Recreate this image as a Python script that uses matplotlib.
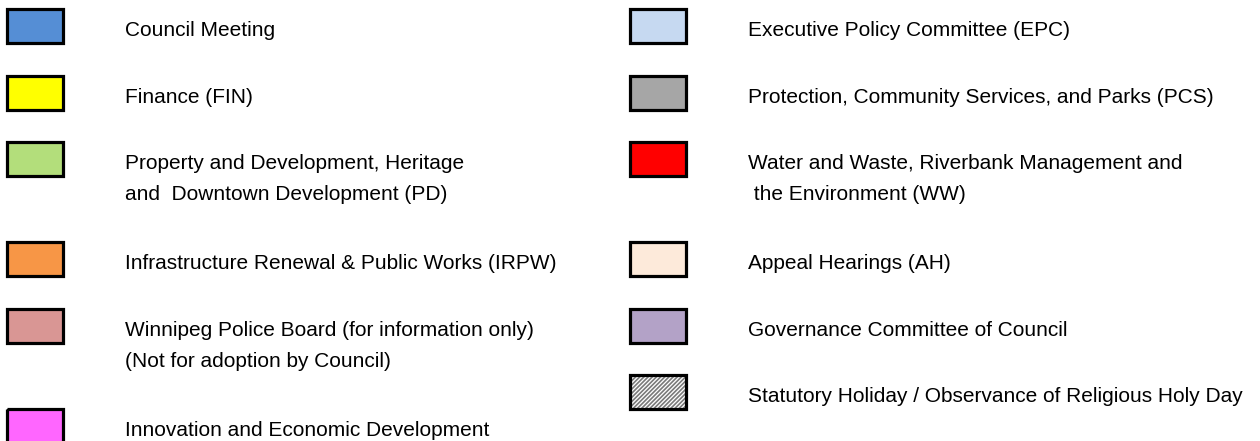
import matplotlib
matplotlib.use("Agg")
import matplotlib.pyplot as plt
from matplotlib.patches import Rectangle

plt.rcParams['font.family'] = ['Liberation Sans', 'DejaVu Sans']
plt.rcParams['hatch.linewidth'] = 1.2

left_labels = [
    "Council Meeting",
    "Finance (FIN)",
    "Property and Development, Heritage\nand  Downtown Development (PD)",
    "Infrastructure Renewal & Public Works (IRPW)",
    "Winnipeg Police Board (for information only)\n(Not for adoption by Council)",
    "Innovation and Economic Development",
]
left_colors = ["#558ED5", "#FFFF00", "#B3DE7B", "#F79646", "#D99694", "#FF66FF"]

right_labels = [
    "Executive Policy Committee (EPC)",
    "Protection, Community Services, and Parks (PCS)",
    "Water and Waste, Riverbank Management and\n the Environment (WW)",
    "Appeal Hearings (AH)",
    "Governance Committee of Council",
    "Statutory Holiday / Observance of Religious Holy Day",
]
right_colors = ["#C6D9F1", "#A6A6A6", "#FF0000", "#FDEADA", "#B3A2C7", "hatch"]

# layout (pixels)
left_tops = [8.5, 75.5, 141.5, 241.5, 308.5, 408.5]
right_tops = [8.5, 75.5, 141.5, 241.5, 308.5, 374.5]
box_w, box_h = 56, 34
left_box_x, right_box_x = 6.5, 629.5
left_text_x, right_text_x = 125, 748
FS = 15
BASE1 = 10.5     # first baseline below box centre
LINE_GAP = 31    # baseline-to-baseline distance

fig = plt.figure(figsize=(12.6, 4.41), dpi=100)
ax = fig.add_axes([0, 0, 1, 1])
ax.set_xlim(0, 1260)
ax.set_ylim(441, 0)
ax.axis('off')


def swatch(x, y, color):
    if color == "hatch":
        ax.add_patch(Rectangle((x, y), box_w, box_h, facecolor="white",
                               edgecolor="#7a7a7a", hatch="////////", linewidth=0))
    else:
        ax.add_patch(Rectangle((x, y), box_w, box_h, facecolor=color, linewidth=0))
    ax.add_patch(Rectangle((x, y), box_w, box_h, facecolor="none",
                           edgecolor="black", linewidth=2.3))


def label(x, ytop, text):
    cy = ytop + box_h / 2
    for i, line in enumerate(text.split("\n")):
        ax.text(x, cy + BASE1 + i * LINE_GAP, line, fontsize=FS,
                va="baseline", ha="left", color="black")


for lab, col, top in zip(left_labels, left_colors, left_tops):
    swatch(left_box_x, top, col)
    label(left_text_x, top, lab)

for lab, col, top in zip(right_labels, right_colors, right_tops):
    swatch(right_box_x, top, col)
    label(right_text_x, top, lab)

fig.savefig("out.png", dpi=100)
